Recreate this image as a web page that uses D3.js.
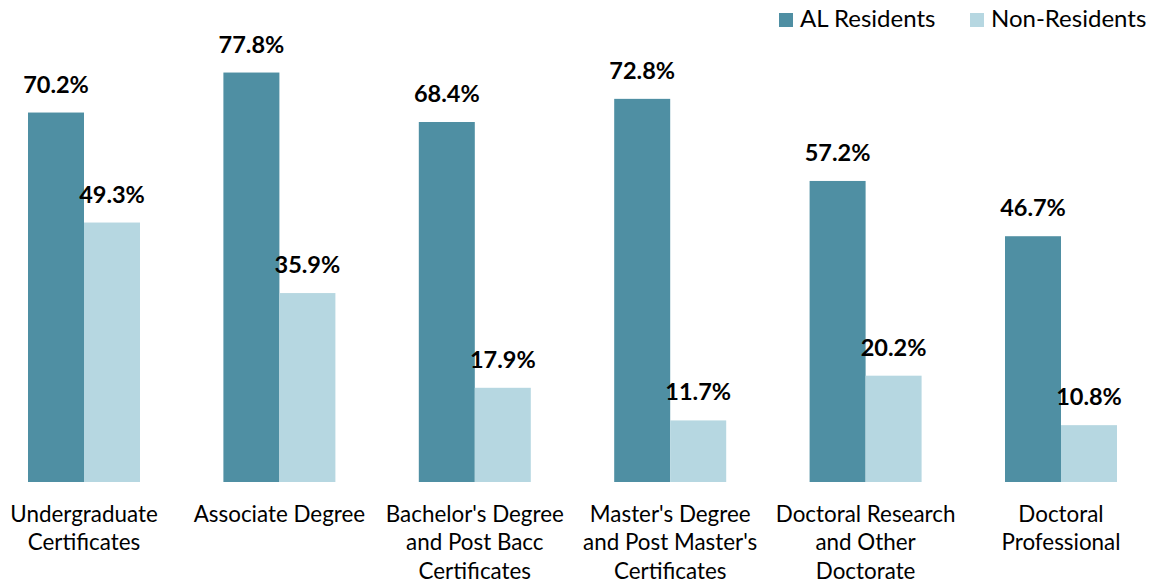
<!DOCTYPE html>
<html>
<head>
<meta charset="utf-8">
<script src="https://cdn.jsdelivr.net/npm/d3@7"></script>
<style>
body { margin: 0; background: #fff; }
text { font-family: Lato, "Open Sans", sans-serif; fill: #000; }
</style>
</head>
<body>
<div id="chart"></div>
<script>
var categories = [
  ["Undergraduate", "Certificates"],
  ["Associate Degree"],
  ["Bachelor's Degree", "and Post Bacc", "Certificates"],
  ["Master's Degree", "and Post Master's", "Certificates"],
  ["Doctoral Research", "and Other", "Doctorate"],
  ["Doctoral", "Professional"]
];
var series = ["AL Residents", "Non-Residents"];
var alResidents = [70.2, 77.8, 68.4, 72.8, 57.2, 46.7];
var nonResidents = [49.3, 35.9, 17.9, 11.7, 20.2, 10.8];
var colors = ["#4f8fa3", "#b6d7e1"];

var W = 1156, H = 584;
var base = 482;

var svg = d3.select("#chart").append("svg")
  .attr("width", W)
  .attr("height", H);

var keys = categories.map(function(c) { return c.join(" "); });

var x0 = d3.scaleBand()
  .domain(keys)
  .range([-13.7, 1158.7])
  .padding(0);

var x1 = d3.scaleBand()
  .domain(series)
  .range([0, 112]);

var y = d3.scaleLinear()
  .domain([0, 100])
  .range([base, base - 526.3]);

var data = keys.map(function(k, i) {
  return { key: k, lines: categories[i], vals: [alResidents[i], nonResidents[i]] };
});

var groups = svg.selectAll(".grp")
  .data(data)
  .enter().append("g")
  .attr("class", "grp")
  .attr("transform", function(d) {
    return "translate(" + (x0(d.key) + x0.bandwidth() / 2 - 56) + ",0)";
  });

groups.selectAll("rect")
  .data(function(d) { return d.vals.map(function(v, j) { return { s: series[j], v: v, j: j }; }); })
  .enter().append("rect")
  .attr("x", function(d) { return x1(d.s); })
  .attr("width", x1.bandwidth())
  .attr("y", function(d) { return y(d.v); })
  .attr("height", function(d) { return base - y(d.v); })
  .attr("fill", function(d) { return colors[d.j]; });

groups.selectAll(".val")
  .data(function(d) { return d.vals.map(function(v, j) { return { s: series[j], v: v }; }); })
  .enter().append("text")
  .attr("class", "val")
  .attr("x", function(d) { return x1(d.s) + x1.bandwidth() / 2; })
  .attr("y", function(d) { return y(d.v) - 20; })
  .attr("text-anchor", "middle")
  .style("font-weight", "bold")
  .style("font-size", "23.5px")
  .text(function(d) { return d.v.toFixed(1) + "%"; });

// category labels
groups.append("text")
  .attr("text-anchor", "middle")
  .style("font-size", "22.4px")
  .selectAll("tspan")
  .data(function(d) { return d.lines; })
  .enter().append("tspan")
  .attr("x", 56)
  .attr("y", function(d, i) { return 522 + i * 28.3; })
  .text(function(d) { return d; });

// legend
var legendX = [779, 970];
var leg = svg.selectAll(".leg")
  .data(series)
  .enter().append("g")
  .attr("class", "leg")
  .attr("transform", function(d, i) { return "translate(" + legendX[i] + ",0)"; });

leg.append("rect")
  .attr("x", 0)
  .attr("y", 13)
  .attr("width", 14)
  .attr("height", 14)
  .attr("fill", function(d, i) { return colors[i]; });

leg.append("text")
  .attr("x", 21)
  .attr("y", 27)
  .style("font-size", "24px")
  .text(function(d) { return d; });
</script>
</body>
</html>
